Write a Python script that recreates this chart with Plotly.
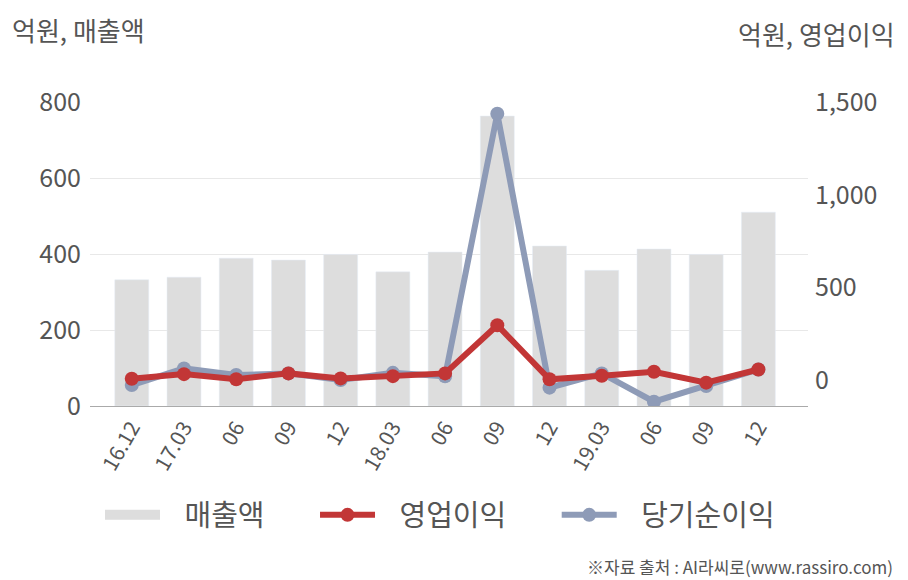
import plotly.graph_objects as go

tick_labels = ["16.12", "17.03", "06", "09", "12", "18.03", "06", "09", "12", "19.03", "06", "09", "12"]
sales = [332, 339, 389, 384, 399, 353, 405, 763, 421, 357, 413, 399, 510]
op_profit = [7, 32, 4, 36, 9, 21, 36, 296, 4, 23, 45, -14, 57]
net_profit = [-27, 63, 27, 36, 0, 39, 20, 1437, -41, 36, -117, -32, 57]

FONT = "Noto Sans CJK KR"
TXT = "#555555"
x_idx = list(range(len(tick_labels)))
PAD = "\u00a0" * 3
TAIL = "\u00a0" * 7

ML, MR, MT, MB = 90, 100, 102, 174
W, H = 908, 580
pw = W - ML - MR
ph = H - MT - MB

def px2paper(px, py):
    return (px - ML) / pw, (H - MB - py) / ph

fig = go.Figure()
fig.add_trace(go.Bar(x=x_idx, y=sales, name="매출액", marker_color="#dddddd",
                     width=0.65, showlegend=False))
# legend swatch for the bars (wide grey band)
fig.add_trace(go.Scatter(x=[None], y=[None], name=PAD + "매출액" + TAIL, mode="lines",
                         line=dict(color="#dddddd", width=20), legendrank=1,
                         hoverinfo="skip"))
fig.add_trace(go.Scatter(x=x_idx, y=net_profit, name=PAD + "당기순이익", yaxis="y2",
                         mode="lines+markers", line=dict(color="#8e9bb7", width=6),
                         marker=dict(size=14, color="#8e9bb7"), legendrank=3))
fig.add_trace(go.Scatter(x=x_idx, y=op_profit, name=PAD + "영업이익" + TAIL, yaxis="y2",
                         mode="lines+markers", line=dict(color="#c23636", width=6),
                         marker=dict(size=14, color="#c23636"), legendrank=2))

lx, ly = px2paper(440, 515)
a1x, a1y = px2paper(10, 30)
a2x, a2y = px2paper(897, 33)
a3x, a3y = px2paper(895, 566)

fig.update_layout(
    width=W, height=H,
    margin=dict(l=ML, r=MR, t=MT, b=MB),
    plot_bgcolor="white", paper_bgcolor="white",
    font=dict(family=FONT, color=TXT),
    xaxis=dict(range=[-0.8, 12.95], tickmode="array", tickvals=x_idx, ticktext=tick_labels,
               tickangle=-60, tickfont=dict(size=21, color=TXT),
               showgrid=False, showline=True, linecolor="#aaaaaa", linewidth=1,
               ticks="", zeroline=False, automargin=False),
    yaxis=dict(range=[0, 800], tickvals=[0, 200, 400, 600, 800],
               tickfont=dict(size=25, color=TXT), gridcolor="#e8e8e8",
               zeroline=False, showline=False, ticks="", ticklabelstandoff=8,
               automargin=False),
    yaxis2=dict(range=[-140, 1500.5], overlaying="y", side="right",
                tickvals=[0, 500, 1000, 1500], tickformat=",",
                tickfont=dict(size=25, color=TXT), showgrid=False,
                zeroline=False, showline=False, ticks="", ticklabelstandoff=6,
                automargin=False),
    showlegend=True,
    legend=dict(orientation="h", x=lx, xanchor="center", y=ly, yanchor="middle",
                font=dict(size=29, color=TXT, family=FONT), itemwidth=55,
                traceorder="normal"),
    annotations=[
        dict(text="억원, 매출액", x=a1x, y=a1y, xref="paper", yref="paper", showarrow=False,
             font=dict(size=26, color=TXT), xanchor="left", yanchor="middle"),
        dict(text="억원, 영업이익", x=a2x, y=a2y, xref="paper", yref="paper", showarrow=False,
             font=dict(size=26, color=TXT), xanchor="right", yanchor="middle"),
        dict(text="※자료 출처 : AI라씨로(www.rassiro.com)", x=a3x, y=a3y, xref="paper",
             yref="paper", showarrow=False,
             font=dict(size=17, color=TXT), xanchor="right", yanchor="middle"),
    ],
)

fig.write_html("out.html")
